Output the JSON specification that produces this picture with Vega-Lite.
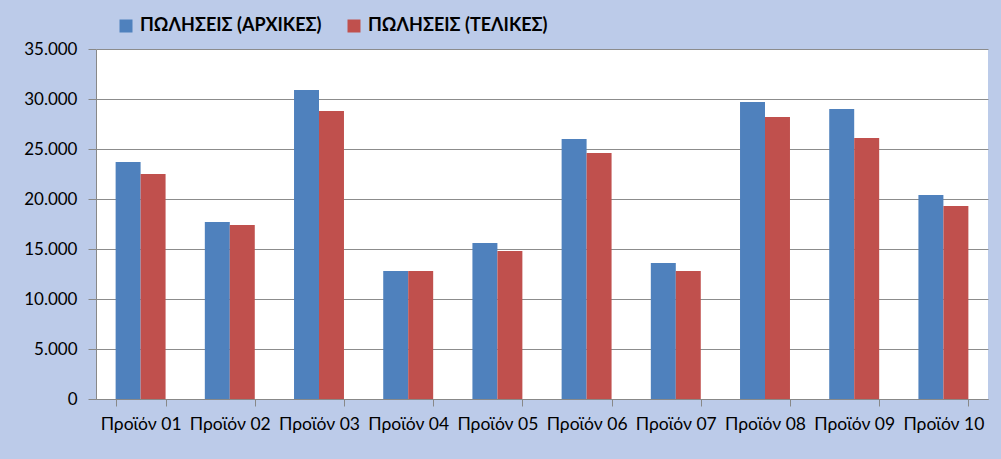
{
  "$schema": "https://vega.github.io/schema/vega-lite/v6.json",
  "width": 892,
  "height": 350,
  "autosize": {"type": "none"},
  "padding": {"left": 96, "top": 49, "right": 13, "bottom": 60},
  "background": "#bccbe9",
  "config": {
    "locale": {"number": {"decimal": ",", "thousands": ".", "grouping": [3], "currency": ["", "€"]}},
    "view": {"fill": "white", "stroke": null},
    "font": "Lato"
  },
  "data": {
    "values": [
      {"product": "Προϊόν 01", "series": "ΠΩΛΗΣΕΙΣ (ΑΡΧΙΚΕΣ)", "value": 23700},
      {"product": "Προϊόν 01", "series": "ΠΩΛΗΣΕΙΣ (ΤΕΛΙΚΕΣ)", "value": 22500},
      {"product": "Προϊόν 02", "series": "ΠΩΛΗΣΕΙΣ (ΑΡΧΙΚΕΣ)", "value": 17700},
      {"product": "Προϊόν 02", "series": "ΠΩΛΗΣΕΙΣ (ΤΕΛΙΚΕΣ)", "value": 17400},
      {"product": "Προϊόν 03", "series": "ΠΩΛΗΣΕΙΣ (ΑΡΧΙΚΕΣ)", "value": 30900},
      {"product": "Προϊόν 03", "series": "ΠΩΛΗΣΕΙΣ (ΤΕΛΙΚΕΣ)", "value": 28800},
      {"product": "Προϊόν 04", "series": "ΠΩΛΗΣΕΙΣ (ΑΡΧΙΚΕΣ)", "value": 12800},
      {"product": "Προϊόν 04", "series": "ΠΩΛΗΣΕΙΣ (ΤΕΛΙΚΕΣ)", "value": 12800},
      {"product": "Προϊόν 05", "series": "ΠΩΛΗΣΕΙΣ (ΑΡΧΙΚΕΣ)", "value": 15600},
      {"product": "Προϊόν 05", "series": "ΠΩΛΗΣΕΙΣ (ΤΕΛΙΚΕΣ)", "value": 14800},
      {"product": "Προϊόν 06", "series": "ΠΩΛΗΣΕΙΣ (ΑΡΧΙΚΕΣ)", "value": 26000},
      {"product": "Προϊόν 06", "series": "ΠΩΛΗΣΕΙΣ (ΤΕΛΙΚΕΣ)", "value": 24600},
      {"product": "Προϊόν 07", "series": "ΠΩΛΗΣΕΙΣ (ΑΡΧΙΚΕΣ)", "value": 13600},
      {"product": "Προϊόν 07", "series": "ΠΩΛΗΣΕΙΣ (ΤΕΛΙΚΕΣ)", "value": 12800},
      {"product": "Προϊόν 08", "series": "ΠΩΛΗΣΕΙΣ (ΑΡΧΙΚΕΣ)", "value": 29700},
      {"product": "Προϊόν 08", "series": "ΠΩΛΗΣΕΙΣ (ΤΕΛΙΚΕΣ)", "value": 28200},
      {"product": "Προϊόν 09", "series": "ΠΩΛΗΣΕΙΣ (ΑΡΧΙΚΕΣ)", "value": 29000},
      {"product": "Προϊόν 09", "series": "ΠΩΛΗΣΕΙΣ (ΤΕΛΙΚΕΣ)", "value": 26100},
      {"product": "Προϊόν 10", "series": "ΠΩΛΗΣΕΙΣ (ΑΡΧΙΚΕΣ)", "value": 20400},
      {"product": "Προϊόν 10", "series": "ΠΩΛΗΣΕΙΣ (ΤΕΛΙΚΕΣ)", "value": 19300}
    ]
  },
  "mark": {"type": "bar"},
  "encoding": {
    "x": {
      "field": "product",
      "type": "nominal",
      "sort": null,
      "scale": {"paddingInner": 0.44, "paddingOuter": 0.22},
      "axis": {
        "title": null,
        "labelAngle": 0,
        "tickBand": "extent",
        "tickSize": 7,
        "tickColor": "#888888",
        "domainColor": "#888888",
        "labelPadding": 9,
        "labelFontSize": 17.5,
        "labelColor": "#000000",
        "labelFont": "Lato"
      }
    },
    "xOffset": {"field": "series", "sort": ["ΠΩΛΗΣΕΙΣ (ΑΡΧΙΚΕΣ)", "ΠΩΛΗΣΕΙΣ (ΤΕΛΙΚΕΣ)"], "scale": {"paddingInner": 0, "paddingOuter": 0}},
    "y": {
      "field": "value",
      "type": "quantitative",
      "scale": {"domain": [0, 35000], "nice": false},
      "axis": {
        "title": null,
        "values": [0, 5000, 10000, 15000, 20000, 25000, 30000, 35000],
        "format": ",d",
        "grid": true,
        "gridColor": "#8c8c8c",
        "gridOpacity": 1,
        "domainColor": "#888888",
        "tickColor": "#888888",
        "tickSize": 8,
        "labelPadding": 11,
        "labelFontSize": 17,
        "labelColor": "#000000",
        "labelFont": "Lato"
      }
    },
    "color": {
      "field": "series",
      "type": "nominal",
      "scale": {"domain": ["ΠΩΛΗΣΕΙΣ (ΑΡΧΙΚΕΣ)", "ΠΩΛΗΣΕΙΣ (ΤΕΛΙΚΕΣ)"], "range": ["#4f81bd", "#c0504d"]},
      "legend": {
        "title": null,
        "orient": "none",
        "legendX": 21,
        "legendY": -32,
        "direction": "horizontal",
        "symbolType": "square",
        "symbolSize": 169,
        "symbolStrokeWidth": 0,
        "labelFont": "Lato",
        "labelFontWeight": "bold",
        "labelFontSize": 18,
        "labelLimit": 400,
        "labelColor": "#000000",
        "labelOffset": 5,
        "columnPadding": 23
      }
    }
  }
}
